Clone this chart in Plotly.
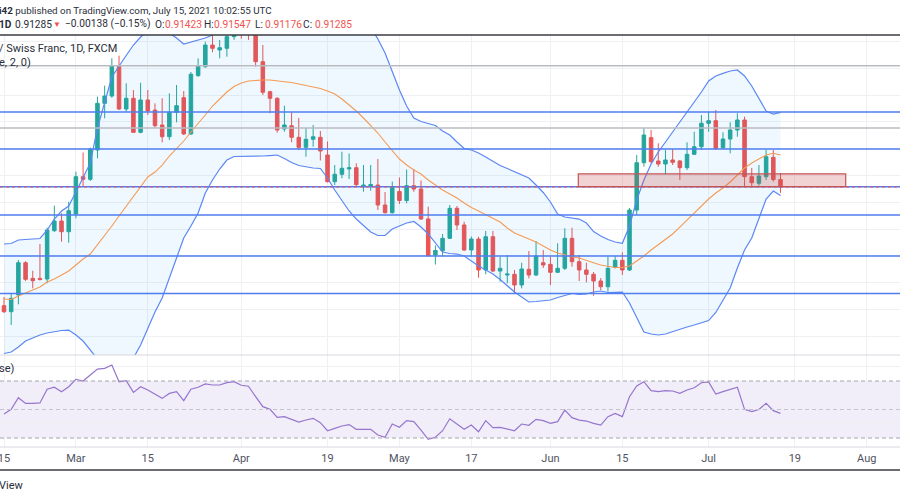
import plotly.graph_objects as go
from plotly.subplots import make_subplots

# ---------------- data ----------------
DATES = (
    ["2021-02-%02d" % d for d in [15, 16, 17, 18, 19, 22, 23, 24, 25, 26]]
    + ["2021-03-%02d" % d for d in [1, 2, 3, 4, 5, 8, 9, 10, 11, 12, 15, 16, 17, 18, 19, 22, 23, 24, 25, 26, 29, 30, 31]]
    + ["2021-04-%02d" % d for d in [1, 2, 5, 6, 7, 8, 9, 12, 13, 14, 15, 16, 19, 20, 21, 22, 23, 26, 27, 28, 29, 30]]
    + ["2021-05-%02d" % d for d in [3, 4, 5, 6, 7, 10, 11, 12, 13, 14, 17, 18, 19, 20, 21, 24, 25, 26, 27, 28, 31]]
    + ["2021-06-%02d" % d for d in [1, 2, 3, 4, 7, 8, 9, 10, 11, 14, 15, 16, 17, 18, 21, 22, 23, 24, 25, 28, 29, 30]]
    + ["2021-07-%02d" % d for d in [1, 2, 5, 6, 7, 8, 9, 12, 13, 14, 15]]
)
FUTURE_DATES = (
    ["2021-07-%02d" % d for d in [16, 19, 20, 21, 22, 23, 26, 27, 28, 29, 30]]
    + ["2021-08-%02d" % d for d in [2, 3, 4, 5, 6, 9]]
)

OPEN = [0.8907, 0.88958, 0.89269, 0.89872, 0.8958, 0.8958, 0.89568, 0.90469, 0.9065, 0.9045,
        0.90781, 0.91477, 0.91428, 0.91975, 0.92846, 0.92983, 0.93548, 0.9274, 0.9294, 0.92305,
        0.92908, 0.92721, 0.92442, 0.92223, 0.92679, 0.92951, 0.92274, 0.93362, 0.93529, 0.93934,
        0.93841, 0.93873, 0.9409, 0.9440, 0.9418, 0.9415, 0.93623, 0.93063, 0.9294, 0.92367,
        0.92428, 0.92212, 0.92025, 0.92175, 0.92212, 0.91882, 0.91384, 0.91522, 0.91621, 0.91645,
        0.9129, 0.91303, 0.91322, 0.90949, 0.90805, 0.91201, 0.91033, 0.91309, 0.91247, 0.90688,
        0.90016, 0.90096, 0.90327, 0.90887, 0.90576, 0.90109, 0.90314, 0.89736, 0.90357, 0.89717,
        0.89643, 0.89656, 0.89456, 0.89749, 0.89643, 0.89872, 0.89842, 0.89693, 0.89768, 0.90327,
        0.89891, 0.89736, 0.89656, 0.89531, 0.89424, 0.89786, 0.89917, 0.89736, 0.90855, 0.91738,
        0.92205, 0.9177, 0.91714, 0.91789, 0.9177, 0.91645, 0.91895, 0.92037, 0.92473, 0.92522,
        0.92018, 0.9218, 0.92348, 0.92535, 0.91477, 0.91354, 0.91477, 0.91839, 0.91423]
HIGH = [0.89232, 0.8930, 0.89923, 0.8990, 0.89723, 0.90221, 0.90525, 0.90936, 0.90794, 0.9101,
        0.9157, 0.91928, 0.9202, 0.9297, 0.93175, 0.93686, 0.93735, 0.9322, 0.93095, 0.9323,
        0.93095, 0.92846, 0.9294, 0.93033, 0.93188, 0.93076, 0.9343, 0.93686, 0.93996, 0.9412,
        0.94028, 0.9425, 0.9473, 0.9455, 0.9430, 0.9425, 0.93934, 0.9308, 0.9296, 0.92802,
        0.92679, 0.92572, 0.92386, 0.92442, 0.9233, 0.92134, 0.91695, 0.91943, 0.9191, 0.91727,
        0.91695, 0.91695, 0.91807, 0.91191, 0.91387, 0.91462, 0.91611, 0.91621, 0.91406, 0.90917,
        0.90193, 0.90408, 0.90949, 0.9093, 0.90637, 0.90361, 0.90357, 0.90464, 0.90464, 0.89984,
        0.90016, 0.89736, 0.89872, 0.9009, 0.90277, 0.90109, 0.89984, 0.90234, 0.90514, 0.90525,
        0.90016, 0.89872, 0.89699, 0.89586, 0.89984, 0.89997, 0.90066, 0.90893, 0.91882, 0.9238,
        0.92348, 0.921, 0.91975, 0.91994, 0.91789, 0.92119, 0.92317, 0.92628, 0.9269, 0.92721,
        0.92305, 0.92492, 0.9266, 0.92597, 0.9164, 0.91695, 0.91975, 0.91975, 0.91547]
LOW = [0.88934, 0.8871, 0.89096, 0.8953, 0.89394, 0.8954, 0.89488, 0.9045, 0.90264, 0.90245,
       0.907, 0.91303, 0.91397, 0.9182, 0.92567, 0.9295, 0.92721, 0.9269, 0.92292, 0.92287,
       0.92628, 0.9239, 0.92119, 0.92162, 0.92492, 0.92255, 0.92255, 0.93343, 0.9351, 0.93798,
       0.93686, 0.93716, 0.9403, 0.9405, 0.9403, 0.9353, 0.93001, 0.9266, 0.92298, 0.92317,
       0.92119, 0.91975, 0.9185, 0.92037, 0.91779, 0.9137, 0.91322, 0.91447, 0.91434, 0.91303,
       0.91197, 0.91216, 0.90855, 0.9079, 0.9079, 0.90967, 0.9098, 0.91197, 0.90669, 0.89988,
       0.89838, 0.89988, 0.90314, 0.90482, 0.9009, 0.89984, 0.89592, 0.89656, 0.89699, 0.89518,
       0.89488, 0.8930, 0.89394, 0.8958, 0.89624, 0.89773, 0.89456, 0.8968, 0.89736, 0.89797,
       0.89531, 0.89506, 0.89256, 0.89363, 0.89331, 0.89764, 0.89643, 0.89717, 0.90762, 0.91663,
       0.91727, 0.91663, 0.91522, 0.91695, 0.91415, 0.91602, 0.91882, 0.91975, 0.92317, 0.91975,
       0.91994, 0.91913, 0.92223, 0.9129, 0.91303, 0.91309, 0.91415, 0.91384, 0.91176]
CLOSE = [0.88958, 0.89208, 0.89872, 0.89562, 0.89536, 0.89558, 0.90482, 0.9065, 0.9045, 0.90842,
         0.91477, 0.91428, 0.91988, 0.92846, 0.92983, 0.93548, 0.9274, 0.9294, 0.92305, 0.92908,
         0.92703, 0.92428, 0.92223, 0.92679, 0.92802, 0.92274, 0.93388, 0.93548, 0.93934, 0.93873,
         0.93884, 0.9409, 0.9440, 0.9418, 0.9415, 0.93623, 0.93052, 0.9294, 0.92348, 0.92442,
         0.92212, 0.92025, 0.92175, 0.92223, 0.91956, 0.91384, 0.91522, 0.91634, 0.91645, 0.91328,
         0.91322, 0.91331, 0.90949, 0.90805, 0.9129, 0.91033, 0.91309, 0.91247, 0.90688, 0.90003,
         0.901, 0.90327, 0.90887, 0.90576, 0.90109, 0.90314, 0.89736, 0.90357, 0.89717, 0.89768,
         0.89661, 0.89456, 0.89755, 0.89643, 0.89997, 0.89829, 0.89693, 0.89768, 0.90327, 0.89891,
         0.89736, 0.89656, 0.89531, 0.89424, 0.89768, 0.89917, 0.89736, 0.90855, 0.91738, 0.92255,
         0.91757, 0.91714, 0.91789, 0.91746, 0.91645, 0.91895, 0.92037, 0.92473, 0.92522, 0.92007,
         0.9218, 0.92348, 0.92535, 0.91477, 0.91365, 0.9149, 0.9185, 0.91423, 0.91285]

BB_UPPER = [0.90221, 0.9023, 0.90296, 0.90309, 0.90309, 0.90324, 0.90482, 0.90687, 0.90837, 0.9093,
            0.91191, 0.91471, 0.91732, 0.92386, 0.92852, 0.93337, 0.93542, 0.93748, 0.93934, 0.94084,
            0.94196, 0.94252, 0.94233, 0.94158, 0.94065, 0.93953, 0.9399, 0.94028, 0.94065, 0.94121,
            0.94214, 0.94326, 0.94438, 0.9455, 0.94625, 0.94662, 0.94681, 0.94681, 0.94662, 0.94643,
            0.94625, 0.94606, 0.94606, 0.94625, 0.94662, 0.94681, 0.94681, 0.94662, 0.94625, 0.9455,
            0.94438, 0.9427, 0.94046, 0.93785, 0.9343, 0.93095, 0.92796, 0.92572, 0.92507, 0.92469,
            0.92432, 0.9233, 0.92255, 0.92124, 0.92003, 0.91975, 0.91919, 0.91844, 0.9176, 0.91686,
            0.9163, 0.91574, 0.91518, 0.91453, 0.91322, 0.91182, 0.91005, 0.90781, 0.90725, 0.90706,
            0.90687, 0.90613, 0.90454, 0.9037, 0.90305, 0.90258, 0.90234, 0.90557, 0.91042, 0.91415,
            0.91714, 0.91938, 0.92124, 0.92311, 0.92497, 0.92665, 0.92852, 0.93057, 0.93263, 0.93356,
            0.93406, 0.93449, 0.93468, 0.93356, 0.93169, 0.92927, 0.92703, 0.92647, 0.92678]
BB_BASIS = [0.89195, 0.89185, 0.89251, 0.89307, 0.89363, 0.89419, 0.89512, 0.89568, 0.89642, 0.89717,
            0.89829, 0.89941, 0.90034, 0.90202, 0.9037, 0.90557, 0.90743, 0.9093, 0.91117, 0.91303,
            0.91471, 0.91564, 0.91695, 0.91863, 0.91994, 0.92143, 0.92311, 0.9246, 0.92628, 0.92796,
            0.92936, 0.93057, 0.9316, 0.93225, 0.93263, 0.93276, 0.93281, 0.93281, 0.93272, 0.93249,
            0.93235, 0.93207, 0.93179, 0.9316, 0.93123, 0.93076, 0.9302, 0.92927, 0.92815, 0.92703,
            0.92572, 0.92441, 0.92292, 0.92124, 0.91975, 0.91807, 0.91695, 0.91602, 0.91527, 0.91415,
            0.91322, 0.91229, 0.91154, 0.91079, 0.90986, 0.90902, 0.90837, 0.90771, 0.90706, 0.90631,
            0.9052, 0.90426, 0.9037, 0.90314, 0.90258, 0.90184, 0.90109, 0.90053, 0.90016, 0.89984,
            0.8996, 0.89922, 0.89872, 0.89829, 0.89801, 0.89782, 0.89782, 0.8981, 0.89904, 0.89997,
            0.90109, 0.90212, 0.90305, 0.90408, 0.90538, 0.90669, 0.90799, 0.9093, 0.91061, 0.91173,
            0.91266, 0.91378, 0.91508, 0.91639, 0.91732, 0.91807, 0.91882, 0.91913, 0.91882]
BB_LOWER = [0.88178, 0.88206, 0.88299, 0.88411, 0.88467, 0.88523, 0.8856, 0.88588, 0.88607, 0.88616,
            0.88523, 0.88411, 0.88243, 0.88056, 0.87907, 0.87832, 0.87832, 0.87926, 0.88094, 0.88336,
            0.88635, 0.88952, 0.89213, 0.89587, 0.89978, 0.90333, 0.90557, 0.90799, 0.91173, 0.91415,
            0.9162, 0.91788, 0.91854, 0.91854, 0.91857, 0.91859, 0.91863, 0.91872, 0.91882, 0.91816,
            0.91742, 0.91686, 0.91658, 0.91639, 0.9163, 0.91453, 0.91229, 0.91042, 0.90837, 0.90687,
            0.90557, 0.90445, 0.9038, 0.9038, 0.90501, 0.90557, 0.90613, 0.90641, 0.90538, 0.90408,
            0.9024, 0.90072, 0.90044, 0.90034, 0.89997, 0.89904, 0.8981, 0.89736, 0.89661, 0.89558,
            0.89437, 0.89325, 0.89232, 0.89139, 0.89148, 0.89157, 0.89176, 0.89223, 0.8926, 0.89297,
            0.89279, 0.89288, 0.89325, 0.89344, 0.89316, 0.89325, 0.89325, 0.8912, 0.8884, 0.88579,
            0.88542, 0.88523, 0.88542, 0.88588, 0.88626, 0.88672, 0.88709, 0.88747, 0.88793, 0.88943,
            0.89176, 0.894, 0.89773, 0.90109, 0.90333, 0.90706, 0.91061, 0.9121, 0.91126]

RSI = [46.8, 50.1, 58.3, 54.3, 54.3, 54.6, 64.2, 65.6, 62.5, 66.0,
       71.2, 70.0, 74.2, 78.4, 78.9, 81.2, 69.5, 70.2, 62.0, 66.0,
       63.7, 60.6, 57.8, 61.3, 62.5, 56.2, 64.2, 65.6, 67.9, 67.2,
       67.2, 68.8, 69.5, 67.0, 66.3, 59.0, 52.0, 50.1, 44.5, 45.0,
       43.1, 41.2, 42.6, 43.8, 40.8, 35.1, 36.8, 38.4, 39.4, 36.1,
       36.1, 36.1, 32.1, 30.5, 39.8, 37.5, 42.2, 41.5, 35.6, 29.1,
       30.5, 35.1, 43.5, 39.8, 36.1, 39.1, 34.4, 42.2, 37.3, 37.5,
       36.5, 35.1, 39.8, 38.9, 43.1, 42.2, 40.3, 41.5, 49.6, 44.3,
       42.6, 41.9, 40.3, 39.1, 45.0, 47.3, 45.0, 59.0, 66.5, 69.5,
       63.2, 62.5, 63.2, 63.0, 61.3, 63.7, 65.3, 68.8, 69.3, 60.9,
       62.5, 64.2, 65.6, 50.1, 48.5, 50.1, 54.3, 49.2, 47.3]

TICK_DATES = ["2021-02-15", "2021-03-01", "2021-03-15", "2021-04-01", "2021-04-19", "2021-05-03",
              "2021-05-17", "2021-06-01", "2021-06-15", "2021-07-01", "2021-07-19", "2021-08-02"]
TICK_TEXT = ["15", "Mar", "15", "Apr", "19", "May", "17", "Jun", "15", "Jul", "19", "Aug"]

HLINES_BLUE = [0.92684, 0.91994, 0.9129, 0.90762, 0.89997, 0.89297]
HLINES_GRAY = [0.93548, 0.92386]
LAST_CLOSE = 0.91285
ZONE_DATES = ["2021-06-07", "2021-07-28"]
ZONE_PRICES = [0.9129, 0.9153]
RSI_LEVELS = [70, 50, 30]

# header legend pieces: (start px, text, colour key, bold, size)
HEADER_LINE2 = [
    (0, "1D", "dark", True, 10.2), (16, "0.91285", "dark", False, 10.2),
    (54, "▼", "red", False, 8),
    (66, "−0.00138 (−0.15%)", "dark", False, 10.2),
    (156, "O:", "dark", False, 10.2), (166, "0.91423", "red", False, 10.2),
    (205, "H:", "dark", False, 10.2), (215, "0.91547", "red", False, 10.2),
    (256, "L:", "dark", False, 10.2), (266, "0.91176", "red", False, 10.2),
    (304, "C:", "dark", False, 10.2), (316, "0.91285", "red", False, 10.2),
]

# ---------------- figure ----------------
ALL_DATES = DATES + FUTURE_DATES
FONT = "Roboto"
GREEN, RED = "#26a69a", "#ef5350"
DARK = "#2a2e39"
BB_BLUE, BB_ORANGE = "#5b87f5", "#f59a55"

fig = make_subplots(rows=2, cols=1, shared_xaxes=True, vertical_spacing=0)

# Bollinger fill (under candles)
fig.add_trace(go.Scatter(x=DATES, y=BB_UPPER, mode="lines", line=dict(width=0),
                         hoverinfo="skip"), row=1, col=1)
fig.add_trace(go.Scatter(x=DATES, y=BB_LOWER, mode="lines", line=dict(width=0),
                         fill="tonexty", fillcolor="rgba(33,150,243,0.07)",
                         hoverinfo="skip"), row=1, col=1)

fig.add_trace(go.Candlestick(
    x=DATES, open=OPEN, high=HIGH, low=LOW, close=CLOSE,
    increasing=dict(line=dict(color=GREEN, width=1), fillcolor=GREEN),
    decreasing=dict(line=dict(color=RED, width=1), fillcolor=RED),
    whiskerwidth=0, hoverinfo="skip"), row=1, col=1)

fig.add_trace(go.Scatter(x=DATES, y=BB_UPPER, mode="lines",
                         line=dict(color=BB_BLUE, width=1.2), hoverinfo="skip"), row=1, col=1)
fig.add_trace(go.Scatter(x=DATES, y=BB_LOWER, mode="lines",
                         line=dict(color=BB_BLUE, width=1.2), hoverinfo="skip"), row=1, col=1)
fig.add_trace(go.Scatter(x=DATES, y=BB_BASIS, mode="lines",
                         line=dict(color=BB_ORANGE, width=1.1), hoverinfo="skip"), row=1, col=1)

# RSI
fig.add_trace(go.Scatter(x=DATES, y=RSI, mode="lines",
                         line=dict(color="#9575cd", width=1.2), hoverinfo="skip"), row=2, col=1)
fig.add_trace(go.Scatter(x=FUTURE_DATES, y=[None] * len(FUTURE_DATES), mode="lines",
                         hoverinfo="skip"), row=2, col=1)

shapes = []
# RSI band
shapes.append(dict(type="rect", xref="paper", x0=0, x1=1, yref="y2", y0=30, y1=70,
                   fillcolor="rgba(126,87,194,0.10)", line=dict(width=0), layer="below"))
for lv in RSI_LEVELS:
    shapes.append(dict(type="line", xref="paper", x0=0, x1=1, yref="y2", y0=lv, y1=lv,
                       line=dict(color="#a3a6af" if lv != 50 else "#c3c5cc", width=1,
                                 dash="4px,3px")))
# drawings
for p in HLINES_GRAY:
    shapes.append(dict(type="line", xref="paper", x0=0, x1=1, yref="y", y0=p, y1=p,
                       line=dict(color="#b9bbc1", width=1.4)))
for p in HLINES_BLUE:
    shapes.append(dict(type="line", xref="paper", x0=0, x1=1, yref="y", y0=p, y1=p,
                       line=dict(color="#4f7ef0", width=1.4)))
shapes.append(dict(type="line", xref="paper", x0=0, x1=1, yref="y", y0=LAST_CLOSE, y1=LAST_CLOSE,
                   line=dict(color=RED, width=1, dash="dot")))
shapes.append(dict(type="rect", xref="x", yref="y",
                   x0=ALL_DATES.index(ZONE_DATES[0]) - 0.12, x1=ALL_DATES.index(ZONE_DATES[1]) + 0.07,
                   y0=ZONE_PRICES[0], y1=ZONE_PRICES[1],
                   fillcolor="rgba(200,80,80,0.25)", line=dict(color="#c65454", width=1.2)))
# pane borders
shapes.append(dict(type="line", xref="paper", yref="paper", x0=0, x1=1, y0=0.29, y1=0.29,
                   line=dict(color="#d6d8de", width=1)))
shapes.append(dict(type="line", xref="paper", yref="paper", x0=0, x1=1, y0=0.106, y1=0.106,
                   line=dict(color="#d6d8de", width=1)))
shapes.append(dict(type="line", xref="paper", yref="paper", x0=0, x1=1, y0=0.93, y1=0.93,
                   line=dict(color="#3a3d44", width=1.5)))
shapes.append(dict(type="line", xref="paper", yref="paper", x0=0, x1=1, y0=0.06, y1=0.06,
                   line=dict(color="#3a3d44", width=1.5)))

annotations = [
    dict(text="<b>i42</b> published on TradingView.com, July 15, 2021 10:02:55 UTC",
         x=0, y=1 - 10 / 500, font=dict(size=9.8, color=DARK)),
    dict(text="/ Swiss Franc, 1D, FXCM", x=0, y=1 - 49 / 500, font=dict(size=11, color=DARK)),
    dict(text="e, 2, 0)", x=0, y=1 - 62 / 500, font=dict(size=11, color=DARK)),
    dict(text="se)", x=0, y=1 - 368 / 500, font=dict(size=11, color=DARK)),
    dict(text="View", x=0, y=1 - 485 / 500, font=dict(size=11, color=DARK)),
]
for px, txt, ck, bold, sz in HEADER_LINE2:
    annotations.append(dict(text=("<b>%s</b>" % txt) if bold else txt, x=px / 900, y=1 - 24 / 500,
                            font=dict(size=sz, color=RED if ck == "red" else DARK)))
for a in annotations:
    a["font"].update(family=FONT)
    a.update(xref="paper", yref="paper", xanchor="left", yanchor="middle", showarrow=False,
             xshift=-3)

fig.update_layout(
    width=900, height=500, margin=dict(l=0, r=0, t=0, b=0, autoexpand=False),
    paper_bgcolor="white", plot_bgcolor="white", showlegend=False,
    shapes=shapes, annotations=annotations,
    font=dict(family=FONT),
)
fig.update_xaxes(type="category", categoryorder="array", categoryarray=ALL_DATES,
                 range=[-0.556, 124.62], tickmode="array", tickvals=TICK_DATES, ticktext=TICK_TEXT,
                 showgrid=True, gridcolor="#eef0f4", gridwidth=1, zeroline=False, showline=False,
                 ticks="", rangeslider=dict(visible=False), automargin=False,
                 ticklabelstandoff=3,
                 tickfont=dict(family=FONT, size=11, color="#50535e"))
fig.update_xaxes(showticklabels=False, row=1, col=1)
fig.update_xaxes(showticklabels=True, row=2, col=1)
fig.update_yaxes(showticklabels=False, zeroline=False, showline=False, ticks="",
                 gridcolor="#eef0f4", gridwidth=1, automargin=False)
fig.update_layout(
    yaxis=dict(domain=[0.29, 0.93], range=[0.8815, 0.94121], tick0=0.88, dtick=0.005),
    yaxis2=dict(domain=[0.106, 0.29], range=[23.68, 88.25], tickmode="array",
                tickvals=[40, 60, 80]),
)

fig.write_html("out.html", config={"displayModeBar": False},
               post_script="document.body.style.margin='0';document.body.style.overflow='hidden';")
